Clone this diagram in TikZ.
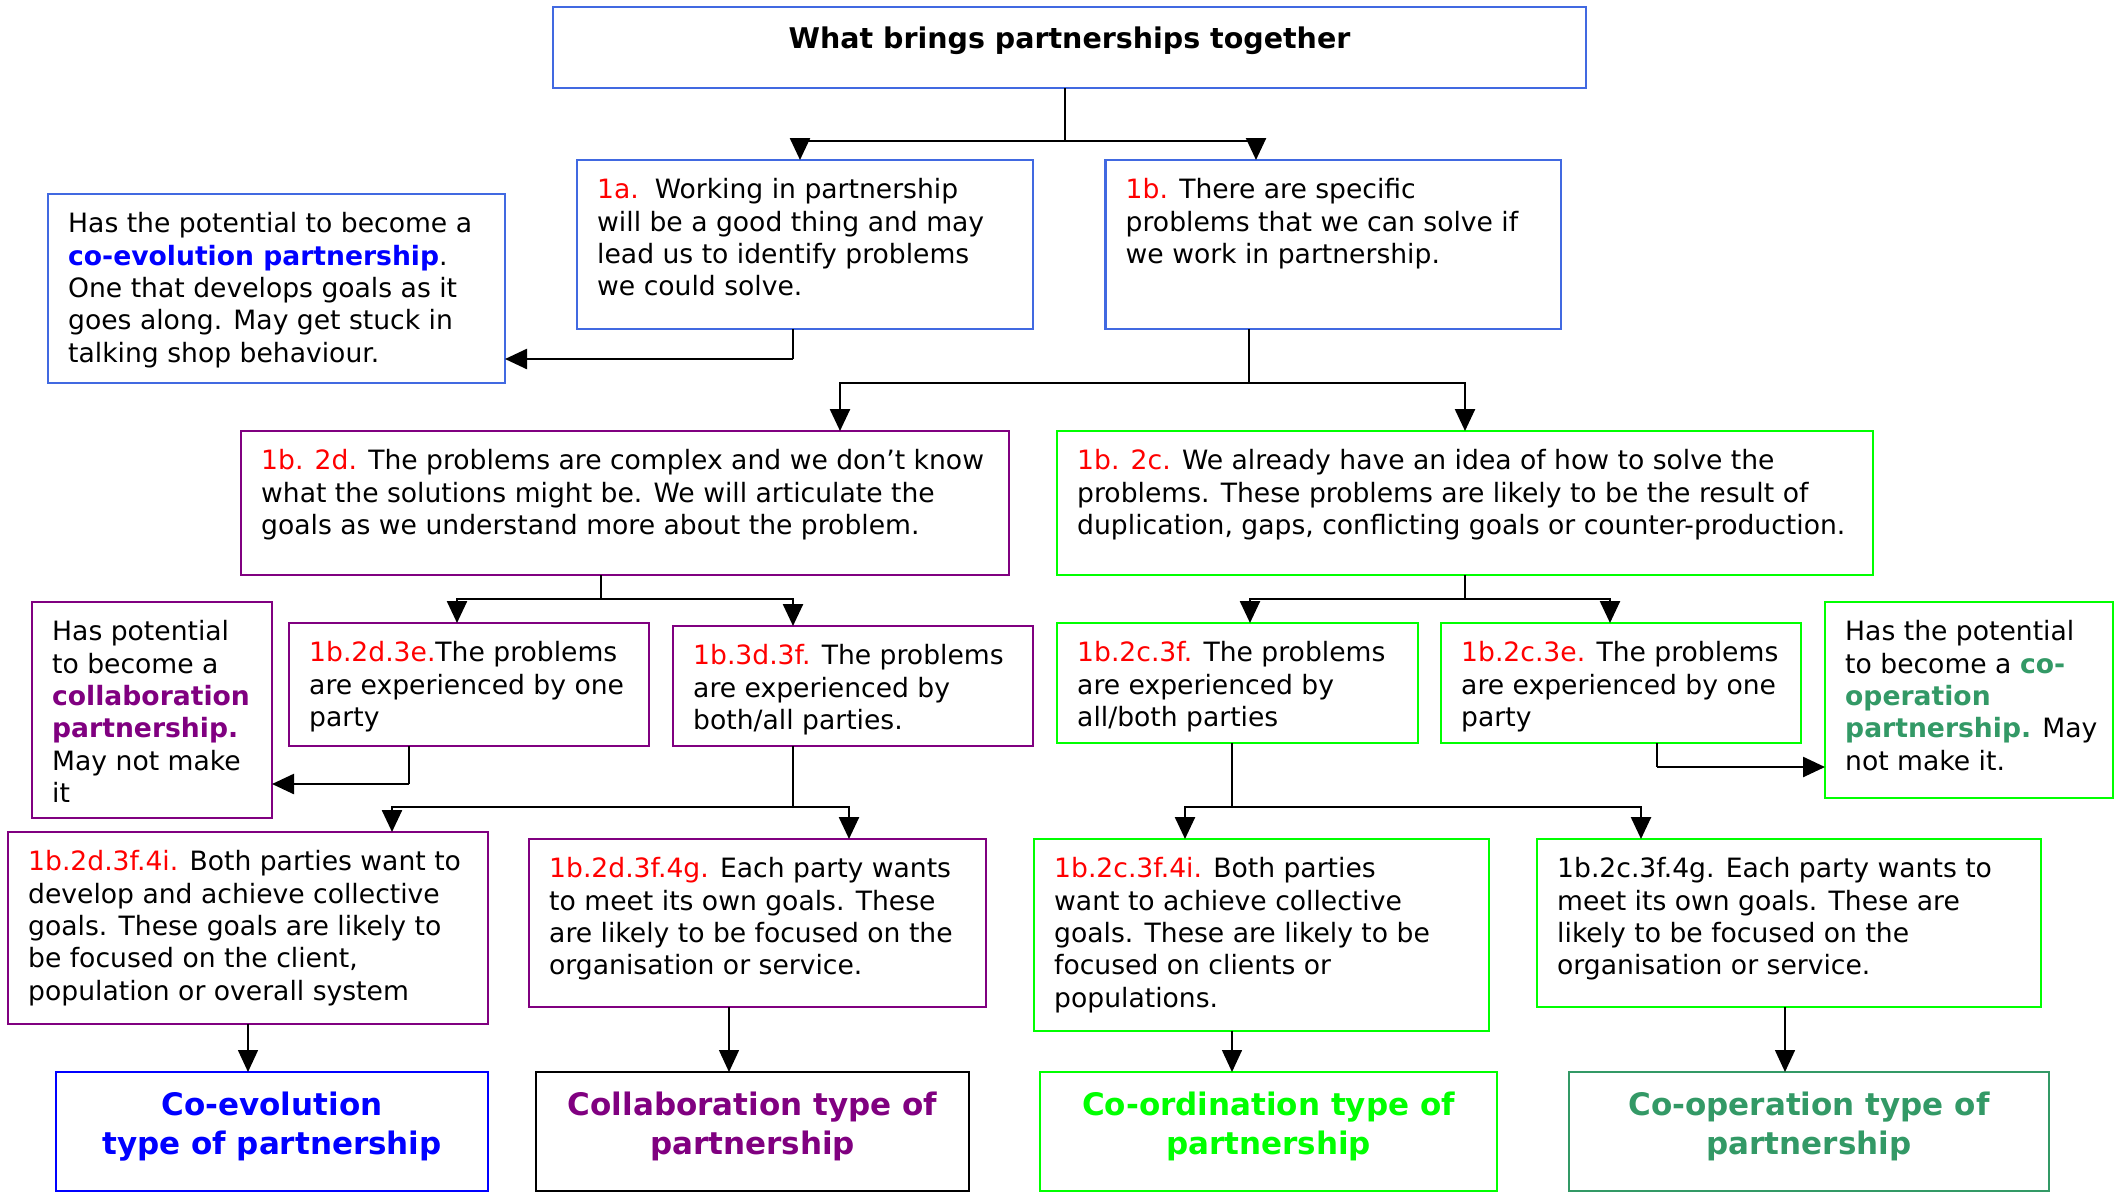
\documentclass[tikz,border=0pt]{standalone}
\usepackage{fontspec}
\setmainfont{DejaVu Sans}
\usetikzlibrary{arrows.meta}
\definecolor{bxblue}{RGB}{65,105,225}
\definecolor{ppl}{HTML}{800080}
\definecolor{limeg}{HTML}{00FF00}
\definecolor{sgreen}{HTML}{339966}
\definecolor{lblred}{HTML}{FF0000}
\definecolor{pblue}{HTML}{0000FF}
\newcommand\bodyfont{\fontsize{26.6pt}{32.4pt}\selectfont}
\newcommand\typefont{\fontsize{31pt}{38.5pt}\selectfont\bfseries}
\newcommand\lbl[1]{\textcolor{lblred}{#1}}
\tikzset{
 boxst/.style={rectangle, line width=2.5pt, inner sep=0pt, outer sep=0pt},
 bodyst/.style={inner sep=0pt, align=left, font=\bodyfont},
 typest/.style={inner sep=0pt, align=center, font=\typefont, anchor=north},
 stem/.style={line width=1.5pt},
 branch/.style={line width=2.5pt, -{Triangle[width=20pt,length=22pt]}},
 downarr/.style={line width=1.5pt, -{Triangle[width=20pt,length=22pt]}},
}
\newcommand\mkbox[7]{%
 \node[boxst, draw=#6, minimum width={(#4-#2)*1pt}, minimum height={(#5-#3)*1pt}] (#1) at ({(#2+#4)/2},{(#3+#5)/2}) {};
 \node[bodyst, anchor=north west] (#1txt) at ({#2+20},{#3+15.8}) {\strut #7};}
\newcommand\mktype[7]{%
 \node[boxst, draw=#6, minimum width={(#4-#2)*1pt}, minimum height={(#5-#3)*1pt}] (#1) at ({(#2+#4)/2},{(#3+#5)/2}) {};
 \node[typest] (#1txt) at ({(#2+#4)/2},{#3+16.5}) {\strut #7};}
\begin{document}
\begin{tikzpicture}[x=1pt,y=-1pt]
\useasboundingbox (0,0) rectangle (2125,1192);
% title
\node[boxst, draw=bxblue, minimum width=1033pt, minimum height=81pt] (title) at (1069.5,47.5) {};
\node[inner sep=0pt, anchor=base, font=\fontsize{28.5pt}{34pt}\selectfont\bfseries] (titletxt) at (1069.5,48.5) {What brings partnerships together};
% level 1
\mkbox{a1}{577}{160}{1033}{329}{bxblue}{\lbl{1a.}\hspace{0.6em}Working in partnership\\will be a good thing and may\\lead us to identify problems\\we could solve.}
\mkbox{b1}{1105.5}{160}{1561}{329}{bxblue}{\lbl{1b.} There are specific\\problems that we can solve if\\we work in partnership.}
\mkbox{pcoevo}{48}{194}{505}{383}{bxblue}{Has the potential to become a\\\textcolor{pblue}{\bfseries co-evolution partnership}.\\One that develops goals as it\\goes along. May get stuck in\\talking shop behaviour.}
% level 2
\mkbox{d2}{241}{431}{1009}{575}{ppl}{\lbl{1b. 2d.} The problems are complex and we don’t know\\what the solutions might be. We will articulate the\\goals as we understand more about the problem.}
\mkbox{c2}{1057}{431}{1873}{575}{limeg}{\lbl{1b. 2c.} We already have an idea of how to solve the\\problems. These problems are likely to be the result of\\duplication, gaps, conflicting goals or counter-production.}
% level 3
\mkbox{pcollab}{32}{602}{272}{818}{ppl}{Has potential\\to become a\\\textcolor{ppl}{\bfseries collaboration}\\\textcolor{ppl}{\bfseries partnership.}\\May not make\\it}
\mkbox{d3e}{289}{623}{649}{746}{ppl}{\lbl{1b.2d.3e.}The problems\\are experienced by one\\party}
\mkbox{d3f}{673}{626}{1033}{746}{ppl}{\lbl{1b.3d.3f.} The problems\\are experienced by\\both/all parties.}
\mkbox{c3f}{1057}{623}{1418}{743}{limeg}{\lbl{1b.2c.3f.} The problems\\are experienced by\\all/both parties}
\mkbox{c3e}{1441}{623}{1801}{743}{limeg}{\lbl{1b.2c.3e.} The problems\\are experienced by one\\party}
\mkbox{pcoop}{1825}{602}{2113}{798}{limeg}{Has the potential\\to become a \textcolor{sgreen}{\bfseries co-}\\\textcolor{sgreen}{\bfseries operation}\\\textcolor{sgreen}{\bfseries partnership.} May\\not make it.}
% level 4
\mkbox{d4i}{8}{832}{488}{1024}{ppl}{\lbl{1b.2d.3f.4i.} Both parties want to\\develop and achieve collective\\goals. These goals are likely to\\be focused on the client,\\population or overall system}
\mkbox{d4g}{529}{839}{986}{1007}{ppl}{\lbl{1b.2d.3f.4g.} Each party wants\\to meet its own goals. These\\are likely to be focused on the\\organisation or service.}
\mkbox{c4i}{1034}{839}{1489}{1031}{limeg}{\lbl{1b.2c.3f.4i.} Both parties\\want to achieve collective\\goals. These are likely to be\\focused on clients or\\populations.}
\mkbox{c4g}{1537}{839}{2041}{1007}{limeg}{1b.2c.3f.4g. Each party wants to\\meet its own goals. These are\\likely to be focused on the\\organisation or service.}
% types
\mktype{tcoevo}{56}{1072}{488}{1191}{pblue}{\textcolor{pblue}{Co-evolution}\\\textcolor{pblue}{type of partnership}}
\mktype{tcollab}{536}{1072}{969}{1191}{black}{\textcolor{ppl}{Collaboration type of}\\\textcolor{ppl}{partnership}}
\mktype{tcoord}{1040}{1072}{1497}{1191}{limeg}{\textcolor{limeg}{Co-ordination type of}\\\textcolor{limeg}{partnership}}
\mktype{tcoop}{1569}{1072}{2049}{1191}{sgreen}{\textcolor{sgreen}{Co-operation type of}\\\textcolor{sgreen}{partnership}}
% connectors
\draw[stem] (title.south -| 1065,0) -- (1065,141) coordinate (jt);
\draw[branch] (jt) -| (a1.north -| 800,0);
\draw[branch] (jt) -| (b1.north -| 1256,0);
\draw[stem] (a1.south -| 793,0) -- (793,359) coordinate (ja);
\draw[branch] (ja) -- (pcoevo.east |- ja);
\draw[stem] (b1.south -| 1249,0) -- (1249,383) coordinate (jb);
\draw[branch] (jb) -| (d2.north -| 840,0);
\draw[branch] (jb) -| (c2.north);
\draw[stem] (d2.south -| 601,0) -- (601,599) coordinate (jd);
\draw[branch] (jd) -| (d3e.north -| 457,0);
\draw[branch] (jd) -| (d3f.north -| 793,0);
\draw[stem] (c2.south) -- (1465,599) coordinate (jc);
\draw[branch] (jc) -| (c3f.north -| 1250,0);
\draw[branch] (jc) -| (c3e.north -| 1610,0);
\draw[stem] (d3e.south -| 409,0) -- (409,784) coordinate (je);
\draw[branch] (je) -- (pcollab.east |- je);
\draw[stem] (d3f.south -| 793,0) -- (793,807) coordinate (jf);
\draw[branch] (jf) -| (d4i.north -| 392,0);
\draw[branch] (jf) -| (d4g.north -| 849,0);
\draw[stem] (c3e.south -| 1657,0) -- (1657,767) coordinate (jg);
\draw[branch] (jg) -- (pcoop.west |- jg);
\draw[stem] (c3f.south -| 1232,0) -- (1232,807) coordinate (jh);
\draw[branch] (jh) -| (c4i.north -| 1185,0);
\draw[branch] (jh) -| (c4g.north -| 1641,0);
\draw[downarr] (d4i.south -| 248,0) -- (tcoevo.north -| 248,0);
\draw[downarr] (d4g.south -| 729,0) -- (tcollab.north -| 729,0);
\draw[downarr] (c4i.south -| 1232,0) -- (tcoord.north -| 1232,0);
\draw[downarr] (c4g.south -| 1785,0) -- (tcoop.north -| 1785,0);
\end{tikzpicture}
\end{document}
